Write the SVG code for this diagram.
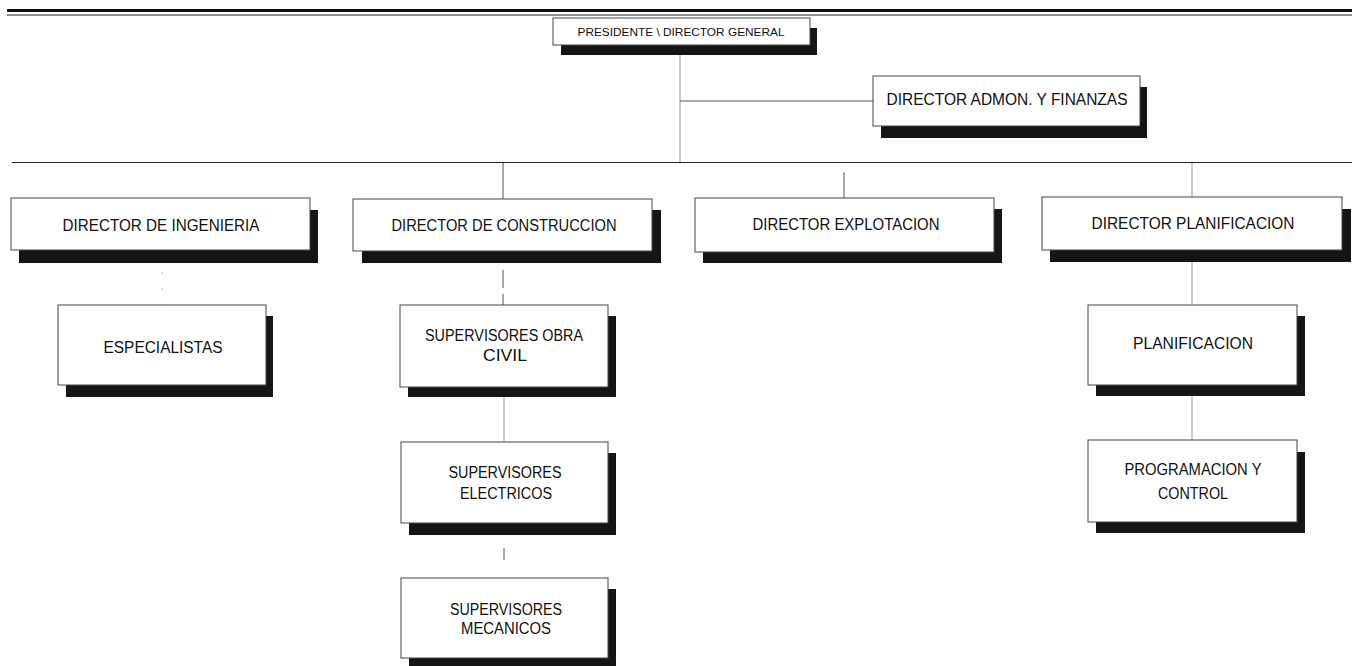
<svg xmlns="http://www.w3.org/2000/svg" width="1359" height="666" viewBox="0 0 1359 666">
<style>
.sh{fill:#151515}
.bx{fill:#fff;stroke:#444;stroke-width:1}
.t{font-family:"Liberation Sans",Arial,sans-serif;fill:#111;text-anchor:middle;font-size:16px}
.ts{font-size:11.5px}
.c{stroke:#555;stroke-width:1;fill:none}
.cl{stroke:#aaa;stroke-width:1.2;fill:none}
.cf{stroke:#bbb;stroke-width:1;fill:none;stroke-dasharray:2 14}
</style>
<rect width="1359" height="666" fill="#fff"/>
<g id="header">
<line x1="7" y1="10.5" x2="1352" y2="10.5" stroke="#111" stroke-width="3"/>
<line x1="7" y1="15" x2="1352" y2="15" stroke="#222" stroke-width="1.2"/>
</g>
<g id="connectors">
<line class="cl" x1="680" y1="45" x2="680" y2="163"/>
<line class="c" x1="680" y1="101" x2="873" y2="101"/>
<line x1="12" y1="162.5" x2="1352" y2="162.5" stroke="#222" stroke-width="1.2"/>
<line class="c" x1="503" y1="163" x2="503" y2="199"/>
<line class="c" x1="844" y1="172" x2="844" y2="198"/>
<line class="cl" x1="1192" y1="163" x2="1192" y2="197"/>
<line class="cf" x1="162" y1="272" x2="162" y2="305"/>
<line class="c" x1="503" y1="270" x2="503" y2="305" stroke-dasharray="18 6"/>
<line class="cl" x1="504" y1="397" x2="504" y2="442"/>
<line class="c" x1="504" y1="548" x2="504" y2="560" stroke="#888"/>
<line class="cl" x1="1192" y1="262" x2="1192" y2="305"/>
<line class="cl" x1="1192" y1="396" x2="1192" y2="440"/>
</g>
<g id="presidente">
<rect class="sh" x="561" y="28" width="256" height="27"/>
<rect class="bx" x="553" y="18" width="257" height="27" stroke="#888"/>
<text class="t ts" x="681" y="36" textLength="207" lengthAdjust="spacingAndGlyphs">PRESIDENTE \ DIRECTOR GENERAL</text>
</g>
<g id="admon">
<rect class="sh" x="881" y="87" width="266" height="51"/>
<rect class="bx" x="873" y="76" width="267" height="50"/>
<text class="t" x="1007" y="105" textLength="241" lengthAdjust="spacingAndGlyphs">DIRECTOR ADMON. Y FINANZAS</text>
</g>
<g id="ingenieria">
<rect class="sh" x="19" y="210" width="299" height="53"/>
<rect class="bx" x="11" y="198" width="299" height="52"/>
<text class="t" x="161" y="231" textLength="197" lengthAdjust="spacingAndGlyphs">DIRECTOR DE INGENIERIA</text>
</g>
<g id="construccion">
<rect class="sh" x="362" y="210" width="299" height="53"/>
<rect class="bx" x="353" y="199" width="299" height="52"/>
<text class="t" x="504" y="231" textLength="225" lengthAdjust="spacingAndGlyphs">DIRECTOR DE CONSTRUCCION</text>
</g>
<g id="explotacion">
<rect class="sh" x="703" y="209" width="299" height="54"/>
<rect class="bx" x="695" y="198" width="299" height="54"/>
<text class="t" x="846" y="230" textLength="187" lengthAdjust="spacingAndGlyphs">DIRECTOR EXPLOTACION</text>
</g>
<g id="dir-planificacion">
<rect class="sh" x="1050" y="209" width="301" height="53"/>
<rect class="bx" x="1042" y="197" width="300" height="53"/>
<text class="t" x="1193" y="229" textLength="203" lengthAdjust="spacingAndGlyphs">DIRECTOR PLANIFICACION</text>
</g>
<g id="especialistas">
<rect class="sh" x="66" y="316" width="207" height="81"/>
<rect class="bx" x="58" y="305" width="208" height="80"/>
<text class="t" x="163" y="353" textLength="119" lengthAdjust="spacingAndGlyphs">ESPECIALISTAS</text>
</g>
<g id="obra-civil">
<rect class="sh" x="408" y="316" width="208" height="81"/>
<rect class="bx" x="400" y="305" width="208" height="82"/>
<text class="t" x="504" y="341" textLength="158" lengthAdjust="spacingAndGlyphs">SUPERVISORES OBRA</text>
<text class="t" x="505" y="361" textLength="44" lengthAdjust="spacingAndGlyphs">CIVIL</text>
</g>
<g id="electricos">
<rect class="sh" x="409" y="453" width="207" height="82"/>
<rect class="bx" x="401" y="442" width="207" height="81"/>
<text class="t" x="505" y="478" textLength="113" lengthAdjust="spacingAndGlyphs">SUPERVISORES</text>
<text class="t" x="506" y="499" textLength="92" lengthAdjust="spacingAndGlyphs">ELECTRICOS</text>
</g>
<g id="mecanicos">
<rect class="sh" x="409" y="589" width="207" height="82"/>
<rect class="bx" x="401" y="578" width="207" height="80"/>
<text class="t" x="506" y="615" textLength="112" lengthAdjust="spacingAndGlyphs">SUPERVISORES</text>
<text class="t" x="506" y="634" textLength="90" lengthAdjust="spacingAndGlyphs">MECANICOS</text>
</g>
<g id="planificacion">
<rect class="sh" x="1096" y="316" width="209" height="80"/>
<rect class="bx" x="1088" y="305" width="209" height="80"/>
<text class="t" x="1193" y="349" textLength="120" lengthAdjust="spacingAndGlyphs">PLANIFICACION</text>
</g>
<g id="programacion">
<rect class="sh" x="1096" y="452" width="209" height="81"/>
<rect class="bx" x="1088" y="440" width="209" height="82"/>
<text class="t" x="1193" y="475" textLength="137" lengthAdjust="spacingAndGlyphs">PROGRAMACION Y</text>
<text class="t" x="1193" y="499" textLength="70" lengthAdjust="spacingAndGlyphs">CONTROL</text>
</g>
</svg>
